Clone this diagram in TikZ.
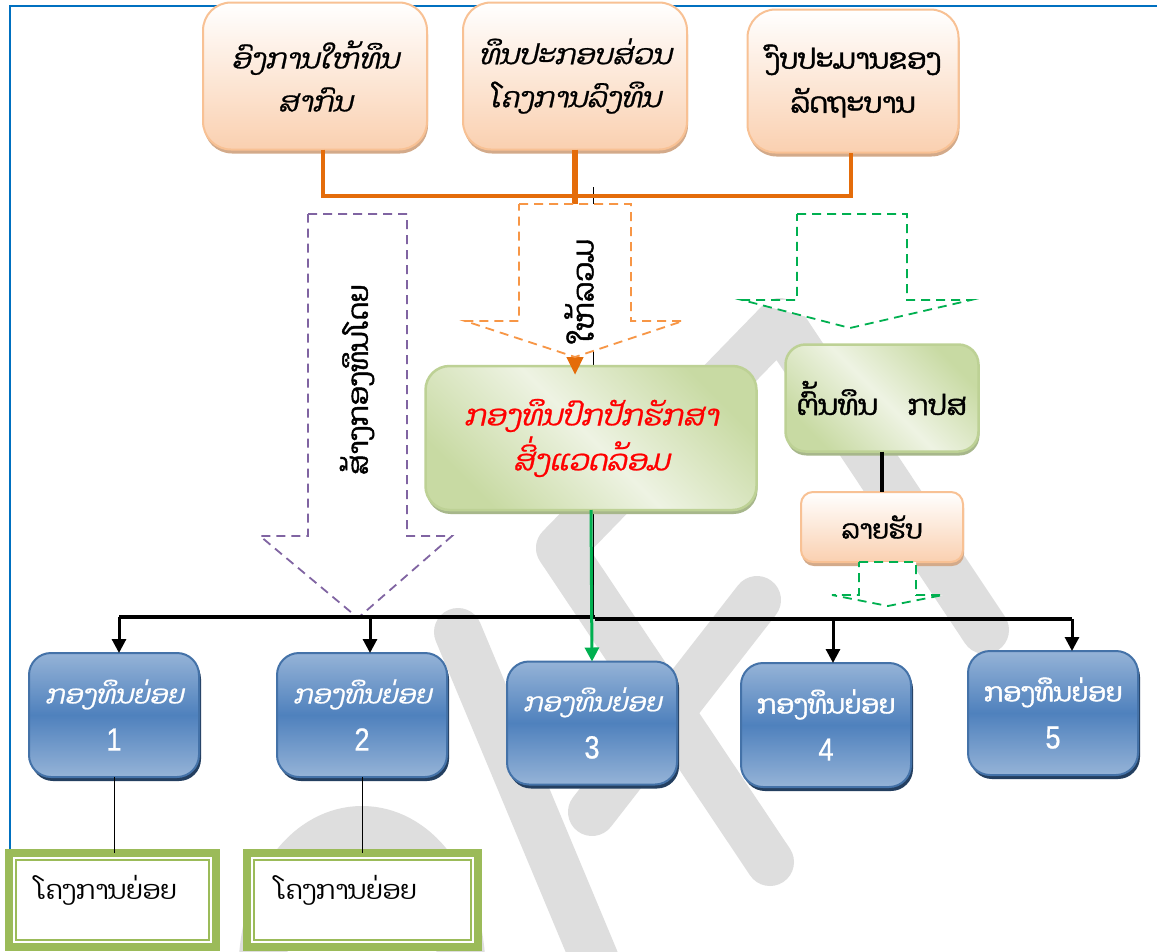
\documentclass[tikz,border=0pt]{standalone}
\usepackage{fontspec}
\usetikzlibrary{shadows,arrows.meta}
\newfontfamily\lao[Script=Lao]{Dhyana}
\newfontfamily\laobf[Script=Lao,FakeBold=1.6]{Dhyana}
\newfontfamily\laoit[Script=Lao,FakeSlant=0.22,FakeBold=0.8]{Dhyana}
\newfontfamily\digits[FakeStretch=0.85,FakeBold=0.6]{Liberation Sans}
\newcommand{\fundno}[1]{{\digits\fontsize{32}{32}\selectfont #1}}

\definecolor{frameblue}{HTML}{0070C0}
\definecolor{orline}{HTML}{E46C0A}
\definecolor{orborder}{HTML}{F8C194}
\definecolor{orbot}{HTML}{FAD0B0}
\definecolor{orshadow}{HTML}{D3AA8A}
\definecolor{grlight}{HTML}{EEF3E3}
\definecolor{grdark}{HTML}{C8DAA3}
\definecolor{grborder}{HTML}{BDD195}
\definecolor{grshadow}{HTML}{A7B78B}
\definecolor{blulight}{HTML}{95B3D7}
\definecolor{blumid}{HTML}{4F81BD}
\definecolor{bluborder}{HTML}{4472A8}
\definecolor{blushadow}{HTML}{243F60}
\definecolor{dashpurple}{HTML}{8064A2}
\definecolor{dashorange}{HTML}{F79646}
\definecolor{dashgreen}{HTML}{00B050}
\definecolor{projgreen}{HTML}{9BBB59}
\definecolor{draftgray}{HTML}{DEDEDE}

\begin{document}
\begin{tikzpicture}[x=1pt, y=-1pt,
    orbox/.style={draw=orborder, line width=2pt, top color=white, bottom color=orbot,
      drop shadow={shadow xshift=1pt, shadow yshift=-4pt, fill=orshadow, opacity=1},
      align=center, outer sep=0pt},
    grbox/.style={draw=grborder, line width=2.5pt, top color=grdark, bottom color=grdark,
      middle color=grlight, shading angle=-45,
      drop shadow={shadow xshift=1pt, shadow yshift=-4pt, fill=grshadow, opacity=1},
      align=center, outer sep=0pt},
    fundbox/.style={draw=bluborder, line width=2pt, rounded corners=22pt,
      top color=blulight, bottom color=blulight, middle color=blumid,
      drop shadow={shadow xshift=2pt, shadow yshift=-4pt, fill=blushadow, opacity=1},
      minimum width=170pt, minimum height=124pt, align=center, text=white,
      outer sep=0pt, font=\fontsize{26}{47}\selectfont},
    projbox/.style={draw=projgreen, line width=8pt, fill=white, outer sep=0pt},
    projinner/.style={draw=projgreen, line width=2.5pt},
    projtext/.style={font=\lao\fontsize{26}{30}\selectfont},
    blockarrow/.style={line width=1.8pt, dash pattern=on 9pt off 6pt, fill=white},
    bus/.style={line width=4.5pt},
    busarrow/.style={line width=3pt, -{Triangle[length=14pt,width=14pt]}},
    draftmark/.style={draftgray, line width=48pt, line cap=round, line join=round},
  ]
  \useasboundingbox (0,0) rectangle (1157,951);
  \clip (0,0) rectangle (1157,951);
  \fill[white] (0,0) rectangle (1157,951);

  % watermark strokes
  \draw[draftmark] (985,630) -- (780,322) -- (560,548) -- (770,862);
  \draw[draftmark] (757,600) -- (592,812);
  \draw[draftmark] (458,632) -- (595,960);
  \draw[draftmark] (262,980) .. controls (262,780) and (462,780) .. (462,980);

  \draw[frameblue, line width=2.5pt] (10,849) -- (10,6) -- (1157,6); % page frame

  % spine and bus points
  \coordinate (spine) at (593,187);
  \coordinate (legA) at (323,196);
  \coordinate (legC) at (851,196);
  \coordinate (busL) at (119,617);
  \coordinate (busM) at (595,617);
  \coordinate (busN) at (595,619);
  \coordinate (busR) at (1072,619);
  \coordinate (drop2) at (370,617);
  \coordinate (drop4) at (833,619);

  \draw[line width=1pt] (spine) -- (spine |- busM);

  % sources
  \node[orbox, rounded corners=28pt, minimum width=224pt, minimum height=147pt,
    font=\laoit\fontsize{28}{43}\selectfont] (donor) at (315,76) {ອົງການໃຫ້ທຶນ\\ສາກົນ};
  \node[orbox, rounded corners=28pt, minimum width=224pt, minimum height=147pt,
    font=\laoit\fontsize{28}{43}\selectfont] (invest) at (575,76) {ທຶນປະກອບສ່ວນ\\ໂຄງການລົງທຶນ};
  \node[orbox, rounded corners=28pt, minimum width=211pt, minimum height=143pt,
    font=\laobf\fontsize{28}{44}\selectfont] (budget) at (853,81) {ງົບປະມານຂອງ\\ລັດຖະບານ};

  \draw[orline, line width=3.5pt] (donor.south -| legA) -- (legA) -- (legC) -- (budget.south -| legC);

  % dashed block arrows
  \draw[blockarrow, draw=dashpurple] (308,214) -- (407,214) -- (407,536) -- (452,536)
    -- (358,618) -- (260,536) -- (308,536) -- cycle;
  \node[rotate=90, font=\laobf\fontsize{28}{28}\selectfont] (create) at (357,380) {ສ້າງກອງທຶນໂດຍ};
  \draw[blockarrow, draw=dashgreen] (797,214) -- (907,214) -- (907,300) -- (971,300)
    -- (850,328) -- (742,300) -- (797,300) -- cycle;

  % fund and its capital
  \node[grbox, rounded corners=24pt, minimum width=331pt, minimum height=144pt, text=red,
    font=\laoit\fontsize{29}{45}\selectfont] (fund) at (591,438) {ກອງທຶນປົກປັກຮັກສາ\\ສິ່ງແວດລ້ອມ};
  \node[grbox, rounded corners=20pt, minimum width=193pt, minimum height=107pt,
    font=\laobf\fontsize{28}{34}\selectfont] (capital) at (882,398) {ຕົ້ນທຶນ\hspace{30pt}ກປສ};
  \node[orbox, rounded corners=12pt, minimum width=162pt, minimum height=70pt,
    font=\laobf\fontsize{26}{30}\selectfont] (income) at (882,527) {ລາຍຮັບ};
  \draw[line width=4.5pt] (capital.south) -- (income.north);

  \draw[orline, line width=5.5pt, -{Triangle[length=18pt,width=16pt]}, shorten >=-9pt]
    (invest.south) -- (invest.south |- fund.north);
  \draw[blockarrow, draw=dashorange] (519,204) -- (631,204) -- (631,321) -- (683,321)
    -- (575,357) -- (465,321) -- (519,321) -- cycle;
  \node[rotate=90, font=\laobf\fontsize{29}{29}\selectfont] (share) at (579,291) {ໃຫ້ລວມ};
  \draw[blockarrow, draw=dashgreen] (859,562) -- (916,562) -- (916,595) -- (943,595)
    -- (888,606) -- (832,595) -- (859,595) -- cycle;

  % sub-funds
  \node[fundbox] (sub1) at (114,715) {{\laoit ກອງທຶນຍ່ອຍ}\\\fundno{1}};
  \node[fundbox] (sub2) at (362,715) {{\laoit ກອງທຶນຍ່ອຍ}\\\fundno{2}};
  \node[fundbox, minimum height=123pt] (sub3) at (592,723) {{\laoit ກອງທຶນຍ່ອຍ}\\\fundno{3}};
  \node[fundbox] (sub4) at (826,725) {{\laobf ກອງທຶນຍ່ອຍ}\\\fundno{4}};
  \node[fundbox] (sub5) at (1053,713) {{\laobf ກອງທຶນຍ່ອຍ}\\\fundno{5}};

  \draw[bus] (busL) -- (busM);
  \draw[bus] (busN) -- (busR);
  \draw[busarrow] (busL) -- (busL |- sub1.north);
  \draw[busarrow] (drop2) -- (drop2 |- sub2.north);
  \draw[busarrow] (drop4) -- (drop4 |- sub4.north);
  \draw[busarrow] (busR) -- (busR |- sub5.north);
  \draw[busarrow, dashgreen] (fund.south) -- (sub3.north);

  % sub-projects
  \node[projbox, minimum width=207pt, minimum height=94pt] (proj1) at (112.5,900) {};
  \node[projbox, minimum width=231pt, minimum height=94pt] (proj2) at (362.5,900) {};
  \draw[projinner] ([shift={(7,7)}]proj1.north west) rectangle ([shift={(-7,-7)}]proj1.south east);
  \draw[projinner] ([shift={(7,7)}]proj2.north west) rectangle ([shift={(-7,-7)}]proj2.south east);
  \node[projtext] (proj1text) at (106,890) {ໂຄງການຍ່ອຍ};
  \node[projtext] (proj2text) at (346,890) {ໂຄງການຍ່ອຍ};
  \draw[line width=1pt] (sub1.south) -- (sub1.south |- proj1.north);
  \draw[line width=1pt] (sub2.south) -- (sub2.south |- proj2.north);
\end{tikzpicture}
\end{document}
